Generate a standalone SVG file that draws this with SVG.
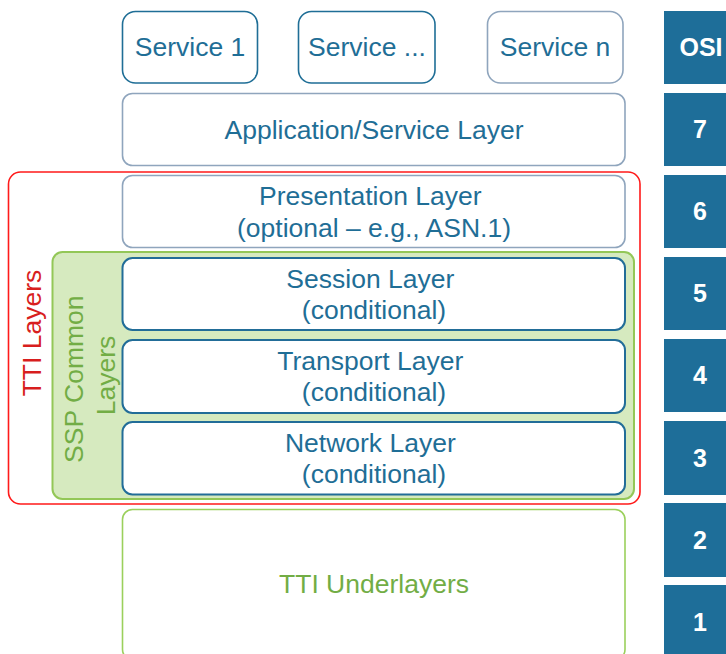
<svg xmlns="http://www.w3.org/2000/svg" width="726" height="654" viewBox="0 0 726 654">
  <style>
    text { font-family: "Liberation Sans", Arial, sans-serif; font-size: 26.5px; text-anchor: middle; }
    .lbl { fill: #1f6e96; }
    .box-dark { fill: #ffffff; stroke: #1f6e96; stroke-width: 1.6; }
    .box-soft { fill: #ffffff; stroke: #8fa5bd; stroke-width: 1.6; }
    .box-core { fill: #ffffff; stroke: #226d98; stroke-width: 2; }
    .osi rect { fill: #1e6e99; }
    .osi text { fill: #ffffff; font-weight: bold; font-size: 25px; }
  </style>

  <!-- OSI reference column -->
  <g id="osi" class="osi">
    <rect x="664" y="11" width="72" height="73"/>
    <rect x="664" y="93" width="72" height="73"/>
    <rect x="664" y="175" width="72" height="73"/>
    <rect x="664" y="257" width="72" height="73"/>
    <rect x="664" y="339" width="72" height="73"/>
    <rect x="664" y="421" width="72" height="74"/>
    <rect x="664" y="503" width="72" height="74"/>
    <rect x="664" y="585" width="72" height="74"/>
    <text x="701" y="56">OSI</text>
    <text x="700" y="138">7</text>
    <text x="700" y="220">6</text>
    <text x="700" y="302">5</text>
    <text x="700" y="384">4</text>
    <text x="700" y="467">3</text>
    <text x="700" y="549">2</text>
    <text x="700" y="631">1</text>
  </g>

  <!-- TTI layers boundary -->
  <g id="tti-layers">
    <rect x="8.5" y="172" width="631.5" height="332" rx="12" fill="none" stroke="#ff1a1a" stroke-width="1.6"/>
    <text transform="translate(32 333) rotate(-90)" x="0" y="9" fill="#d81e1e">TTI Layers</text>
  </g>

  <!-- SSP common layers group -->
  <g id="ssp-common">
    <rect x="52.5" y="252" width="581.5" height="247" rx="10" fill="#d6eabf" stroke="#93c757" stroke-width="2"/>
    <text transform="translate(88 375.5) rotate(-90)" fill="#72ad45">
      <tspan x="0" y="-5">SSP Common</tspan>
      <tspan x="0" y="27">Layers</tspan>
    </text>
  </g>

  <!-- services -->
  <g id="service-1">
    <rect class="box-dark" x="122.5" y="11.5" width="135" height="71.5" rx="13"/>
    <text class="lbl" x="190" y="56">Service 1</text>
  </g>
  <g id="service-dots">
    <rect class="box-dark" x="298.5" y="11.5" width="136.5" height="71.5" rx="13"/>
    <text class="lbl" x="367" y="56">Service ...</text>
  </g>
  <g id="service-n">
    <rect class="box-soft" x="487.5" y="11.5" width="135.5" height="71.5" rx="13"/>
    <text class="lbl" x="555" y="56">Service n</text>
  </g>

  <!-- layer stack -->
  <g id="application-layer">
    <rect class="box-soft" x="122.5" y="93.5" width="502.5" height="72" rx="10"/>
    <text class="lbl" x="374" y="138.5">Application/Service Layer</text>
  </g>
  <g id="presentation-layer">
    <rect class="box-soft" x="122.5" y="175.5" width="502.5" height="72" rx="10"/>
    <text class="lbl">
      <tspan x="374" y="205">Presentation Layer</tspan>
      <tspan x="374" y="236.5">(optional – e.g., ASN.1)</tspan>
    </text>
  </g>
  <g id="session-layer">
    <rect class="box-core" x="122.5" y="258" width="502.5" height="72" rx="10"/>
    <text class="lbl">
      <tspan x="374" y="287.5">Session Layer</tspan>
      <tspan x="374" y="319">(conditional)</tspan>
    </text>
  </g>
  <g id="transport-layer">
    <rect class="box-core" x="122.5" y="340" width="502.5" height="73" rx="10"/>
    <text class="lbl">
      <tspan x="374" y="369.5">Transport Layer</tspan>
      <tspan x="374" y="401">(conditional)</tspan>
    </text>
  </g>
  <g id="network-layer">
    <rect class="box-core" x="122.5" y="422" width="502.5" height="72.5" rx="10"/>
    <text class="lbl">
      <tspan x="374" y="451.5">Network Layer</tspan>
      <tspan x="374" y="483">(conditional)</tspan>
    </text>
  </g>
  <g id="tti-underlayers">
    <rect x="122.5" y="509.5" width="502.5" height="150" rx="10" fill="#ffffff" stroke="#9bd05c" stroke-width="1.6"/>
    <text x="374" y="592.5" fill="#72ad45">TTI Underlayers</text>
  </g>

  <!-- no connectors in this layer stack -->
  <g id="connectors"/>
</svg>
